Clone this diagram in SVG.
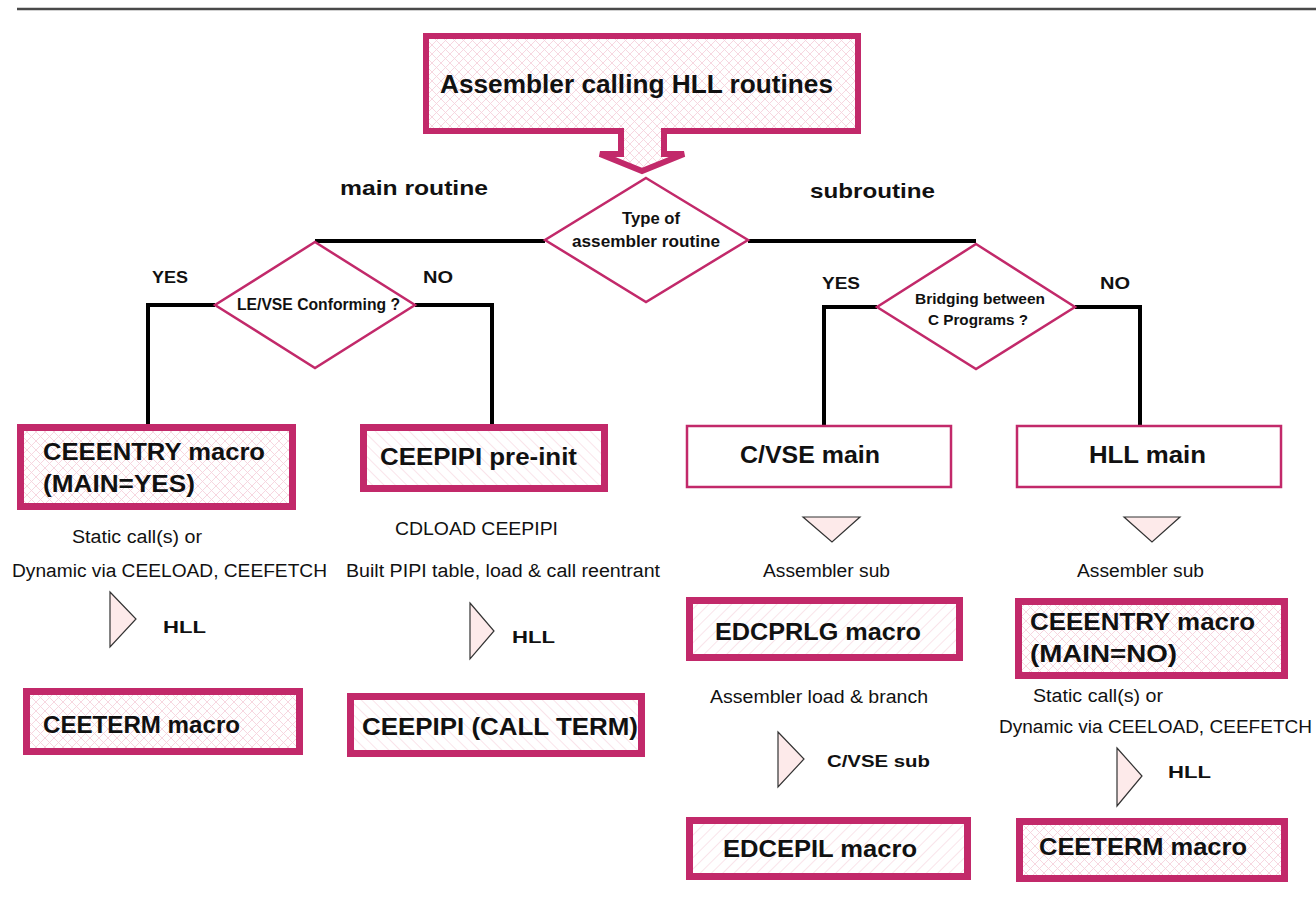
<svg xmlns="http://www.w3.org/2000/svg" width="1316" height="898" viewBox="0 0 1316 898">
<defs>
<pattern id="cross" patternUnits="userSpaceOnUse" width="9" height="9">
<rect width="9" height="9" fill="#ffffff"/>
<path d="M0,0 L9,9 M9,0 L0,9" stroke="#f6d2dc" stroke-width="0.9"/>
</pattern>
<pattern id="hatchA" patternUnits="userSpaceOnUse" width="8" height="8" patternTransform="rotate(-45)">
<rect width="8" height="8" fill="#ffffff"/>
<line x1="0" y1="0" x2="0" y2="8" stroke="#f6d2dc" stroke-width="1.2"/>
</pattern>
<pattern id="hatchB" patternUnits="userSpaceOnUse" width="8" height="8" patternTransform="rotate(45)">
<rect width="8" height="8" fill="#ffffff"/>
<line x1="0" y1="0" x2="0" y2="8" stroke="#f6d2dc" stroke-width="1.2"/>
</pattern>
</defs>
<style>
text{font-family:"Liberation Sans",Arial,sans-serif;fill:#111}
.b{font-weight:bold}
.box{stroke:#c2296a;stroke-width:7}
.thin{fill:#ffffff;stroke:#c2296a;stroke-width:2.5}
.dia{fill:#ffffff;stroke:#c2296a;stroke-width:2.5}
.tri{fill:#fdeaea;stroke:#333;stroke-width:1.2}
.conn{fill:none;stroke:#000;stroke-width:4}
</style>
<rect width="1316" height="898" fill="#ffffff"/>
<line x1="17" y1="9" x2="1316" y2="9" stroke="#4a4a4a" stroke-width="2.5"/>

<g id="connectors">
<path class="conn" d="M545,241 H315"/>
<path class="conn" d="M748,241 H976"/>
<path class="conn" d="M215,305 H148 V424"/>
<path class="conn" d="M415,305 H492 V424"/>
<path class="conn" d="M877,307 H824 V425"/>
<path class="conn" d="M1075,307 H1140 V425"/>
</g>

<g id="title">
<path d="M426,36 H858 V131 H664 V154 H684 L642,171 L600,154 H621 V131 H426 Z" fill="url(#cross)" stroke="#c2296a" stroke-width="6" stroke-linejoin="miter"/>
<text class="b" x="440" y="93" font-size="25" textLength="393" lengthAdjust="spacingAndGlyphs">Assembler calling HLL routines</text>
</g>

<g id="labels">
<text class="b" x="340" y="195" font-size="21" textLength="148" lengthAdjust="spacingAndGlyphs">main routine</text>
<text class="b" x="810" y="198" font-size="21" textLength="125" lengthAdjust="spacingAndGlyphs">subroutine</text>
<text class="b" x="152" y="283" font-size="16" textLength="36" lengthAdjust="spacingAndGlyphs">YES</text>
<text class="b" x="423" y="283" font-size="16" textLength="30" lengthAdjust="spacingAndGlyphs">NO</text>
<text class="b" x="822" y="289" font-size="16" textLength="38" lengthAdjust="spacingAndGlyphs">YES</text>
<text class="b" x="1100" y="289" font-size="16" textLength="30" lengthAdjust="spacingAndGlyphs">NO</text>
</g>

<g id="type-diamond">
<polygon class="dia" points="646,178 748,240 646,302 545,240"/>
<text class="b" x="622" y="224" font-size="17" textLength="58" lengthAdjust="spacingAndGlyphs">Type of</text>
<text class="b" x="572" y="247" font-size="17" textLength="148" lengthAdjust="spacingAndGlyphs">assembler routine</text>
</g>

<g id="le-diamond">
<polygon class="dia" points="315,242 415,305 315,368 215,305"/>
<text class="b" x="237" y="310" font-size="16" textLength="163" lengthAdjust="spacingAndGlyphs">LE/VSE Conforming ?</text>
</g>

<g id="bridge-diamond">
<polygon class="dia" points="976,244 1075,307 976,369 877,307"/>
<text class="b" x="915" y="304" font-size="15" textLength="130" lengthAdjust="spacingAndGlyphs">Bridging between</text>
<text class="b" x="928" y="325" font-size="15" textLength="100" lengthAdjust="spacingAndGlyphs">C Programs ?</text>
</g>

<g id="ceeentry-main">
<rect class="box" x="20.5" y="427.5" width="272" height="79" fill="url(#cross)"/>
<text class="b" x="43" y="460" font-size="23" textLength="222" lengthAdjust="spacingAndGlyphs">CEEENTRY macro</text>
<text class="b" x="43" y="492" font-size="23" textLength="152" lengthAdjust="spacingAndGlyphs">(MAIN=YES)</text>
</g>
<g id="left-notes">
<text x="72" y="543" font-size="18" textLength="130" lengthAdjust="spacingAndGlyphs">Static call(s) or</text>
<text x="12" y="577" font-size="18" textLength="315" lengthAdjust="spacingAndGlyphs">Dynamic via CEELOAD, CEEFETCH</text>
<polygon class="tri" points="110,592 136,619 110,647"/>
<text class="b" x="163" y="633" font-size="17" textLength="43" lengthAdjust="spacingAndGlyphs">HLL</text>
</g>
<g id="ceeterm-left">
<rect class="box" x="26.5" y="691.5" width="273" height="60" fill="url(#cross)"/>
<text class="b" x="43" y="733" font-size="23" textLength="197" lengthAdjust="spacingAndGlyphs">CEETERM macro</text>
</g>

<g id="ceepipi-preinit">
<rect class="box" x="363.5" y="427.5" width="241" height="61" fill="url(#hatchA)"/>
<text class="b" x="380" y="465" font-size="23" textLength="197" lengthAdjust="spacingAndGlyphs">CEEPIPI pre-init</text>
</g>
<g id="ceepipi-notes">
<text x="395" y="535" font-size="18" textLength="163" lengthAdjust="spacingAndGlyphs">CDLOAD CEEPIPI</text>
<text x="346" y="577" font-size="18" textLength="314" lengthAdjust="spacingAndGlyphs">Built PIPI table, load &amp; call reentrant</text>
<polygon class="tri" points="470,603 494,631 470,659"/>
<text class="b" x="512" y="643" font-size="17" textLength="43" lengthAdjust="spacingAndGlyphs">HLL</text>
</g>
<g id="ceepipi-term">
<rect class="box" x="350.5" y="696.5" width="291" height="57" fill="url(#hatchA)"/>
<text class="b" x="362" y="735" font-size="23" textLength="276" lengthAdjust="spacingAndGlyphs">CEEPIPI (CALL TERM)</text>
</g>

<g id="cvse-main">
<rect class="thin" x="687" y="426" width="264" height="61"/>
<text class="b" x="740" y="463" font-size="23" textLength="140" lengthAdjust="spacingAndGlyphs">C/VSE main</text>
</g>
<g id="cvse-notes">
<polygon class="tri" points="803,517 860,517 832,542"/>
<text x="763" y="577" font-size="18" textLength="127" lengthAdjust="spacingAndGlyphs">Assembler sub</text>
<text x="710" y="703" font-size="18" textLength="218" lengthAdjust="spacingAndGlyphs">Assembler load &amp; branch</text>
<polygon class="tri" points="778,732 804,759 778,787"/>
<text class="b" x="827" y="767" font-size="17" textLength="103" lengthAdjust="spacingAndGlyphs">C/VSE sub</text>
</g>
<g id="edcprlg">
<rect class="box" x="689.5" y="600.5" width="270" height="57" fill="url(#hatchB)"/>
<text class="b" x="715" y="640" font-size="23" textLength="206" lengthAdjust="spacingAndGlyphs">EDCPRLG macro</text>
</g>
<g id="edcepil">
<rect class="box" x="689.5" y="820.5" width="278" height="56" fill="url(#hatchB)"/>
<text class="b" x="723" y="857" font-size="23" textLength="194" lengthAdjust="spacingAndGlyphs">EDCEPIL macro</text>
</g>

<g id="hll-main">
<rect class="thin" x="1017" y="426" width="264" height="61"/>
<text class="b" x="1089" y="463" font-size="23" textLength="117" lengthAdjust="spacingAndGlyphs">HLL main</text>
</g>
<g id="hll-notes">
<polygon class="tri" points="1124,517 1180,517 1152,542"/>
<text x="1077" y="577" font-size="18" textLength="127" lengthAdjust="spacingAndGlyphs">Assembler sub</text>
<text x="1033" y="702" font-size="18" textLength="130" lengthAdjust="spacingAndGlyphs">Static call(s) or</text>
<text x="999" y="733" font-size="18" textLength="313" lengthAdjust="spacingAndGlyphs">Dynamic via CEELOAD, CEEFETCH</text>
<polygon class="tri" points="1117,748 1142,776 1117,806"/>
<text class="b" x="1168" y="778" font-size="17" textLength="43" lengthAdjust="spacingAndGlyphs">HLL</text>
</g>
<g id="ceeentry-sub">
<rect class="box" x="1018.5" y="601.5" width="266" height="74" fill="url(#cross)"/>
<text class="b" x="1030" y="630" font-size="23" textLength="225" lengthAdjust="spacingAndGlyphs">CEEENTRY macro</text>
<text class="b" x="1030" y="662" font-size="23" textLength="147" lengthAdjust="spacingAndGlyphs">(MAIN=NO)</text>
</g>
<g id="ceeterm-right">
<rect class="box" x="1019.5" y="821.5" width="265" height="57" fill="url(#cross)"/>
<text class="b" x="1039" y="855" font-size="23" textLength="208" lengthAdjust="spacingAndGlyphs">CEETERM macro</text>
</g>
</svg>
